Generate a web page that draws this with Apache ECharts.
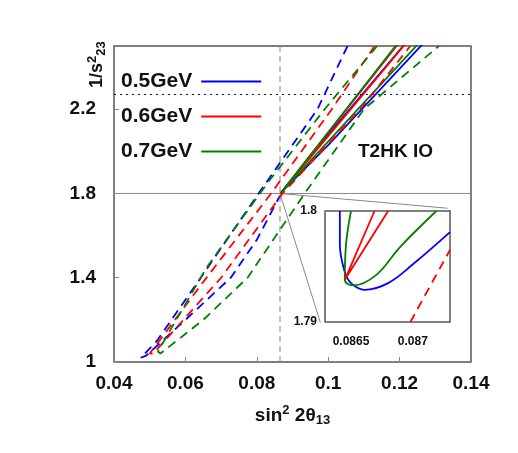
<!DOCTYPE html>
<html>
<head>
<meta charset="utf-8">
<script src="https://cdn.jsdelivr.net/npm/echarts@6/dist/echarts.min.js"></script>
<style>html,body{margin:0;padding:0;background:#fff}#main{width:518px;height:453px}</style>
</head>
<body>
<div id="main"></div>
<script>
// main panel curves: [sin^2 2theta13, 1/s23^2]
var blueDashed = [[0.1054,2.5],[0.097,2.2],[0.0805,1.8],[0.0643,1.4],[0.052,1.1],[0.0475,1.02],[0.049,1.03],[0.06,1.2],[0.0727,1.4],[0.08,1.58],[0.0865,1.79]];
var blueSolid = [[0.1215,2.51],[0.1,2.08],[0.0866,1.8],[0.1,2.03],[0.1265,2.51]];
var redDashed = [[0.113,2.5],[0.101,2.2],[0.084,1.8],[0.065,1.38],[0.05,1.04],[0.051,1.04],[0.07,1.4],[0.0872,1.8],[0.109,2.2],[0.123,2.5]];
var redSolid = [[0.1196,2.51],[0.0866,1.8],[0.1216,2.51]];
var greenDashed = [[0.1137,2.5],[0.099,2.2],[0.083,1.85],[0.066,1.45],[0.0523,1.05],[0.053,1.04],[0.065,1.2],[0.0774,1.4],[0.093,1.79],[0.11,2.2],[0.131,2.5]];
var greenSolid = [[0.1193,2.51],[0.0866,1.8],[0.1252,2.51]];
// inset (zoom around the true point)
var blueInset = [[0.08641,1.8],[0.08641,1.797],[0.08645,1.7945],[0.0865,1.7935],[0.08661,1.7929],[0.0868,1.7935],[0.087,1.7952],[0.0873,1.7981]];
var greenInset = [[0.0865,1.8],[0.08646,1.797],[0.08645,1.7938],[0.08652,1.7933],[0.0867,1.7942],[0.0869,1.7968],[0.08719,1.8]];
var redInset = [[0.08669,1.8],[0.08645,1.7938],[0.0868,1.8]];
var redDashedInset = [[0.08698,1.79],[0.0873,1.7965]];
var trueX = 0.0865, trueY = 1.8, octantY = 2.27;
var insetX = 0.08645, insetY = 1.7938;
var connector = [[0.1334,1.73],[0.0865,1.8],[0.0978,1.1875]];
var xTicks = [0.04,0.06,0.08,0.1,0.12,0.14];
var yTicks = [1,1.4,1.8,2.2];
var insetXTicks = [0.0865,0.087];
var insetYTicks = [1.79,1.8];

var BLUE = '#0000ff', RED = '#ff0000', GREEN = '#008000';
var F = 'Liberation Sans, Arial, sans-serif';

function line(name, data, color, dashed, xi, yi, z) {
    return {
        name: name, type: 'line', data: data, xAxisIndex: xi || 0, yAxisIndex: yi || 0,
        showSymbol: false, smooth: (xi ? 0.4 : false), silent: true, z: z || 3,
        lineStyle: {color: color, width: 1.8, type: dashed ? [9, 6] : 'solid'},
        itemStyle: {color: color}
    };
}
function ref(data, style, xi, yi, color) {
    return {
        type: 'line', data: data, xAxisIndex: xi || 0, yAxisIndex: yi || 0,
        showSymbol: false, silent: true, z: 2,
        lineStyle: {color: color || '#888', width: 1, type: style}
    };
}

var myChart = echarts.init(document.getElementById('main'));
var option = {
    animation: false,
    grid: [
        {left: 114, top: 46, width: 357, height: 316, show: true, outerBoundsMode: 'none', borderColor: '#555', borderWidth: 1.5, backgroundColor: 'transparent'},
        {left: 325, top: 211, width: 125, height: 111, show: true, outerBoundsMode: 'none', borderColor: '#555', borderWidth: 1.5, backgroundColor: '#fff', z: 5}
    ],
    legend: {
        left: 116, top: 66, orient: 'vertical', align: 'right', itemWidth: 60, itemHeight: 2, itemGap: 14,
        data: ['0.5GeV', '0.6GeV', '0.7GeV'], icon: 'rect',
        textStyle: {fontFamily: F, fontSize: 21, fontWeight: 'bold', color: '#111', padding: [0, 4, 0, 0]}
    },
    xAxis: [
        {type: 'value', min: 0.04, max: 0.14, interval: 0.02, gridIndex: 0,
         name: '{a|sin}{s|2}{a| 2θ}{b|13}', nameLocation: 'middle', nameGap: 42,
         nameTextStyle: {rich: {a: {fontFamily: F, fontSize: 19, fontWeight: 'bold', color: '#111'},
             s: {fontFamily: F, fontSize: 13, fontWeight: 'bold', color: '#111', padding: [0, 0, 10, 0]},
             b: {fontFamily: F, fontSize: 13, fontWeight: 'bold', color: '#111', padding: [10, 0, 0, 0]}}},
         axisLine: {show: false}, splitLine: {show: false},
         axisTick: {inside: true, length: 5, lineStyle: {color: '#888'}},
         axisLabel: {margin: 12, fontFamily: F, fontSize: 19, fontWeight: 'bold', color: '#111',
             formatter: function (v) { return String(+v.toFixed(2)); }}},
        {type: 'value', min: 0.08629, max: 0.0873, gridIndex: 1,
         axisLine: {show: false}, splitLine: {show: false},
         axisTick: {inside: true, length: 4, customValues: insetXTicks, lineStyle: {color: '#888'}},
         axisLabel: {margin: 14, customValues: insetXTicks, fontFamily: F, fontSize: 12, fontWeight: 'bold', color: '#111',
             formatter: function (v) { return String(+v.toFixed(4)); }}}
    ],
    yAxis: [
        {type: 'value', min: 1, max: 2.5, gridIndex: 0,
         axisLine: {show: false}, splitLine: {show: false},
         axisTick: {inside: true, length: 5, customValues: yTicks, lineStyle: {color: '#888'}},
         axisLabel: {margin: 18, customValues: yTicks, fontFamily: F, fontSize: 19, fontWeight: 'bold', color: '#111'}},
        {type: 'value', min: 1.79, max: 1.8, gridIndex: 1,
         axisLine: {show: false}, splitLine: {show: false},
         axisTick: {show: false},
         axisLabel: {margin: 8, customValues: insetYTicks, fontFamily: F, fontSize: 12, fontWeight: 'bold', color: '#111',
             verticalAlign: 'middle'}}
    ],
    graphic: [
        {type: 'text', left: 358, top: 142, z: 10,
         style: {text: 'T2HK IO', fontFamily: F, fontSize: 19, fontWeight: 'bold', fill: '#111'}},
        {type: 'text', x: 86, y: 88, rotation: Math.PI / 2, z: 10,
         style: {text: '{a|1/s}{s|2}{b|23}', rich: {
             a: {fontFamily: F, fontSize: 18, fontWeight: 'bold', fill: '#111'},
             s: {fontFamily: F, fontSize: 13, fontWeight: 'bold', fill: '#111', padding: [0, 0, 10, 0]},
             b: {fontFamily: F, fontSize: 13, fontWeight: 'bold', fill: '#111', padding: [8, 0, 0, 0]}}}}
    ],
    series: [
        line('0.5GeV', blueSolid, BLUE, false),
        line('0.6GeV', redSolid, RED, false),
        line('0.7GeV', greenSolid, GREEN, false),
        line('0.5GeV', blueDashed, BLUE, true),
        line('0.6GeV', redDashed, RED, true),
        line('0.7GeV', greenDashed, GREEN, true),
        ref([[0.04, trueY], [0.14, trueY]], 'solid'),
        ref([[trueX, 1], [trueX, 2.5]], [6, 4]),
        ref([[0.04, octantY], [0.14, octantY]], [2, 4], 0, 0, '#111'),
        ref(connector, 'solid'),
        ref([[0.08629, insetY], [0.0873, insetY]], 'solid', 1, 1),
        ref([[insetX, 1.79], [insetX, 1.8]], [6, 4], 1, 1, '#444'),
        line('0.5GeV', blueInset, BLUE, false, 1, 1, 6),
        line('0.7GeV', greenInset, GREEN, false, 1, 1, 6),
        line('0.6GeV', redInset, RED, false, 1, 1, 6),
        line('0.6GeV', redDashedInset, RED, true, 1, 1, 6)
    ]
};
myChart.setOption(option);
</script>
</body>
</html>
